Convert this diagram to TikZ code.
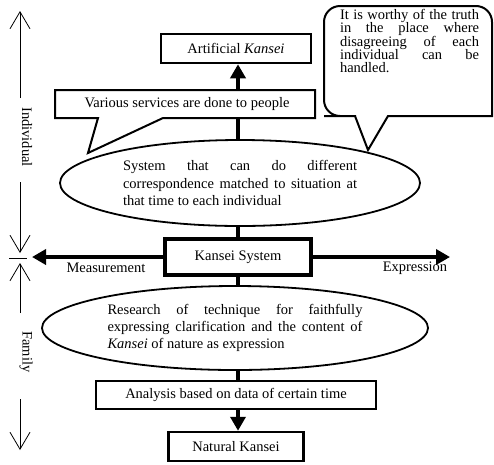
\documentclass[tikz,border=0pt]{standalone}
\usepackage{fontspec}
\setmainfont{Liberation Serif}
\usetikzlibrary{arrows.meta,shapes.geometric,backgrounds}
\tolerance=10000
\hyphenpenalty=10000
\begin{document}
\begin{tikzpicture}[x=1pt,y=-1pt,font=\fontsize{14.5}{17}\selectfont,
	box/.style={draw,fill=white,inner sep=0pt,minimum height=28pt},
	oval/.style={ellipse,draw,fill=white,line width=1.8pt,inner sep=0pt,align=justify},
	spine/.style={line width=3.5pt,-{Triangle[length=14pt,width=15pt]}},
	side/.style={line width=0.8pt,-{Straight Barb[length=17pt,width=20pt]}}]
	\useasboundingbox (0,0) rectangle (494,464);
	% boxes down the middle
	\node[box,line width=2.5pt,minimum width=150pt,minimum height=29pt] (artificial) at (236,48.5) {Artificial \textit{Kansei}};
	\node[oval,minimum width=360pt,minimum height=86pt,text width=234pt,font=\fontsize{14.5}{17.5}\selectfont] (situation) at (240,183)
		{System that can do different\linebreak correspondence matched to situation at\linebreak that time to each individual};
	\node[box,line width=3.2pt,minimum width=146pt,minimum height=36pt] (kansei) at (238,257) {Kansei System};
	\node[oval,minimum width=386pt,minimum height=84pt,text width=255pt] (research) at (235,328)
		{Research of technique for faithfully\linebreak expressing clarification and the content of\linebreak \textit{Kansei} of nature as expression};
	\node[box,line width=2pt,minimum width=280pt] (analysis) at (236,395) {Analysis based on data of certain time};
	\node[box,line width=2.5pt,minimum width=135pt,minimum height=29pt] (natural) at (236,446.5) {Natural Kansei};
	% callouts
	\draw[line width=2pt,fill=white] (98,118) -- (88,153) -- (163,118) -| (315,90) -| (55,118) -- cycle;
	\node[inner sep=0pt] (services) at (187,104) {Various services are done to people};
	\draw[line width=2pt,fill=white] (355,116) -- (368,150) -- (388,116) -- (492,116) [rounded corners=16pt]
		-- (492,6) -- (324,6) -- (324,116) -- (340,116) [sharp corners] -- cycle;
	\node[text width=139pt,align=justify,inner sep=0pt,font=\fontsize{14.5}{13.2}\selectfont] (truth) at (409.5,41)
		{It is worthy of the truth\linebreak in the place where\linebreak disagreeing of each\linebreak individual can be\linebreak handled.};
	% thick arrows
	\begin{pgfonlayer}{background}
		\draw[spine] (kansei.north) -- (kansei.north |- artificial.south);
		\draw[spine] (kansei.south) -- (kansei.south |- natural.north);
	\end{pgfonlayer}
	\coordinate (westend) at (32,257);
	\coordinate (eastend) at (450,257);
	\draw[spine] (kansei.west) -- (westend);
	\draw[spine] (kansei.east) -- (eastend);
	\node (measurement) at (106,268) {Measurement};
	\node (expression) at (415,268) {Expression};
	% scale on the left
	\coordinate (indtop) at (20,11);
	\coordinate (indfoot) at (20,98);
	\coordinate (indmid) at (20,182);
	\coordinate (midtop) at (20,253);
	\coordinate (midfoot) at (20,263);
	\coordinate (famtop) at (20,313);
	\coordinate (famfoot) at (20,399);
	\coordinate (bottom) at (20,450);
	\draw[side] (indfoot) -- (indtop);
	\node[rotate=-90] (individual) at (27,137) {Individual};
	\draw[side] (indmid) -- (midtop);
	\draw[line width=0.8pt] (9,258) -- (27,258);
	\draw[side] (famtop) -- (midfoot);
	\node[rotate=-90] (family) at (26,352) {Family};
	\draw[side] (famfoot) -- (bottom);
\end{tikzpicture}
\end{document}
